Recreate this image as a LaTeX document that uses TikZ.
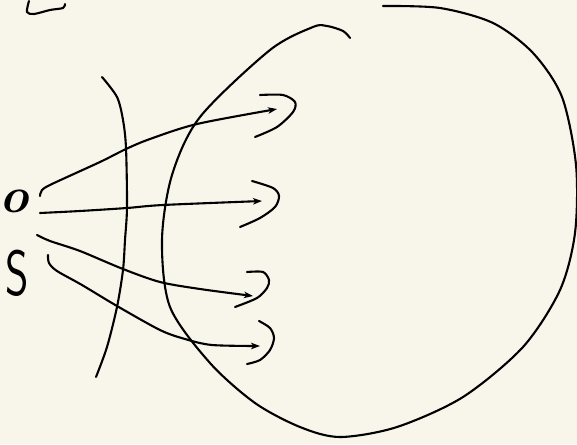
\documentclass[tikz,border=0pt]{standalone}
\usepackage{xcolor}
\usepackage{tikz}
\usetikzlibrary{arrows.meta}
\definecolor{paper}{HTML}{F8F6EB}
\tikzset{
  ink/.style={draw=black, line width=2.1pt, line cap=round, line join=round},
  flow/.style={ink, -{Stealth[length=9pt,width=6.5pt,inset=2.5pt]}},
  lbl/.style={inner sep=0pt, text=black},
}

\begin{document}
\begin{tikzpicture}[x=1pt, y=-1pt]
    \fill[paper] (0,0) rectangle (577,444);
    \useasboundingbox (0,0) rectangle (577,444);

    \node[lbl, font=\fontsize{50}{50}\selectfont\bfseries\itshape] (orig) at (14,201) {o};
    \node[lbl, font=\fontsize{64}{64}\selectfont\sffamily, xscale=0.7] (set) at (17,273) {S};

    % stroke at the top left
    \draw[ink] plot[smooth] coordinates {(29,1) (27,12) (34,14) (50,10) (63,8) (65,4)};

    % cut line
    \draw[ink] plot[smooth] coordinates {(102,77) (117,97) (123,120) (126,148) (127,207)
      (125,240) (123,270) (117,307) (107,347) (96,377)};

    % big region
    \draw[ink] plot[smooth] coordinates {(350,38) (343,31) (327,26) (313,27) (270,50)
      (200,117) (172,175) (162,240) (170,307) (210,363) (255,403) (300,427) (340,437)
      (397,427) (463,397) (523,347) (560,290) (575,233) (576,165) (562,97) (533,53)
      (493,23) (440,8) (383,6)};

    \coordinate (ta) at (277,109);
    \coordinate (tb) at (262,201);
    \coordinate (tc) at (253,296);
    \coordinate (td) at (260,346);

    \draw[flow] plot[smooth] coordinates {(40,196) (42,190) (52,184) (100,162) (126,149)
      (150,139) (197,124) (ta)};
    \draw[flow] plot[smooth] coordinates {(40,213) (80,211) (127,208) (163,205) (tb)};
    \draw[flow] plot[smooth] coordinates {(37,235) (50,241) (80,251) (123,269) (160,282)
      (200,289) (tc)};
    \draw[flow] plot[smooth] coordinates {(48,255) (49,263) (57,271) (82,285) (117,306)
      (160,330) (185,339) (212,345) (td)};

    % bracket ends
    \draw[ink] plot[smooth] coordinates {(260,95) (283,95) (295,102) (293,112) (277,127) (255,137)};
    \draw[ink] plot[smooth] coordinates {(252,181) (273,188) (279,196) (275,207) (260,218) (240,227)};
    \draw[ink] plot[smooth] coordinates {(247,272) (263,272) (269,280) (267,288) (257,298) (235,307)};
    \draw[ink] plot[smooth] coordinates {(259,321) (270,328) (274,338) (270,350) (260,360) (247,364)};
  \end{tikzpicture}
\end{document}
